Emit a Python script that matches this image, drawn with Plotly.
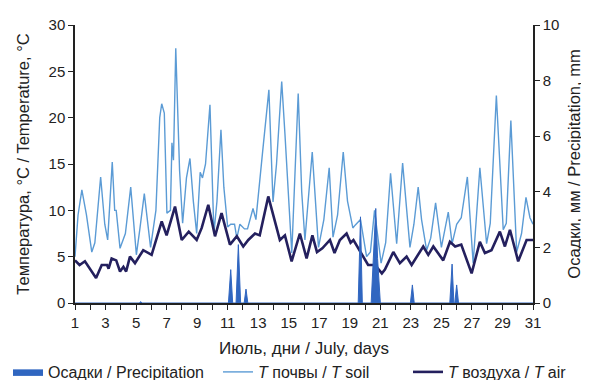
import plotly.graph_objects as go

# ---- data ----
soil_days = [1.0, 1.2, 1.45, 1.75, 2.1, 2.3, 2.68, 2.95, 3.14, 3.44, 3.6, 3.7, 3.95, 4.3, 4.65, 5.02,
             5.25, 5.54, 5.95, 6.3, 6.55, 6.68, 6.85, 7.02, 7.25, 7.35, 7.45, 7.6, 7.85, 8.05,
             8.3, 8.53, 8.75, 8.97, 9.2, 9.35, 9.55, 9.84, 10.1, 10.3, 10.56, 10.75, 11.0, 11.2,
             11.45, 11.6, 11.8, 12.1, 12.3, 12.66, 12.85, 13.05, 13.3, 13.7, 13.97, 14.2, 14.54,
             14.75, 15.2, 15.62, 15.85, 16.06, 16.54, 16.95, 17.3, 17.65, 17.9, 18.2, 18.57, 18.85,
             19.2, 19.35, 19.6, 19.7, 20.1, 20.35, 20.62, 21.05, 21.35, 21.67, 22.07, 22.46, 22.94,
             23.2, 23.48, 23.7, 24.03, 24.3, 24.62, 25.0, 25.45, 25.7, 26.0, 26.3, 26.7, 27.08,
             27.52, 27.96, 28.2, 28.6, 29.05, 29.25, 29.55, 29.93, 30.25, 30.54, 30.8, 31.0]
soil_temp = [5.0, 9.5, 12.2, 9.5, 5.5, 6.5, 13.6, 8.5, 6.8, 15.2, 10.0, 10.0, 5.9, 7.5, 12.5, 5.2,
             8.0, 11.8, 6.0, 10.0, 20.0, 21.5, 20.5, 9.7, 10.0, 17.3, 15.4, 27.5, 14.3, 8.6,
             13.5, 15.6, 11.0, 7.5, 14.1, 13.5, 15.0, 21.4, 7.5, 11.0, 18.7, 12.5, 8.2, 8.5,
             8.5, 7.0, 8.5, 8.0, 8.0, 10.2, 9.0, 12.5, 16.5, 23.0, 10.9, 15.0, 23.9,
             18.3, 5.4, 22.6, 12.0, 6.8, 16.3, 6.0, 9.0, 14.6, 7.1, 9.5, 16.3, 11.0,
             8.1, 8.4, 8.8, 9.0, 5.0, 5.5, 10.0, 4.3, 6.5, 14.0, 6.4, 15.1, 6.0,
             8.5, 12.5, 9.0, 5.7, 7.0, 10.8, 6.0, 9.8, 6.4, 8.5, 9.2, 13.6, 4.3,
             14.6, 6.4, 8.6, 22.4, 7.9, 8.6, 19.7, 5.5, 7.5, 11.4, 9.2, 8.5]

air_days = [1.0, 1.3, 1.65, 2.0, 2.38, 2.75, 3.1, 3.2, 3.4, 3.7, 3.95, 4.17, 4.35, 4.6, 4.93, 5.47,
            6.02, 6.68, 7.0, 7.55, 7.99, 8.45, 8.97, 9.3, 9.73, 10.17, 10.6, 11.15, 11.6, 12.02,
            12.35, 12.79, 13.1, 13.66, 14.1, 14.42, 14.75, 15.19, 15.73, 16.17, 16.55, 16.85,
            17.2, 17.7, 18.0, 18.35, 18.79, 19.05, 19.24, 19.78, 20.2, 20.65, 21.1, 21.3, 21.85,
            22.28, 22.72, 23.05, 23.81, 24.14, 24.47, 25.12, 25.56, 25.9, 26.3, 26.98, 27.52,
            27.85, 28.28, 28.83, 29.16, 29.49, 30.03, 30.58, 31.0]
air_temp = [4.6, 4.1, 4.5, 3.6, 2.7, 4.1, 4.1, 3.7, 4.8, 4.6, 3.4, 3.9, 3.4, 5.0, 4.3, 5.7,
            5.2, 8.8, 7.3, 10.4, 6.8, 7.7, 6.8, 8.1, 10.6, 7.2, 9.7, 6.3, 7.2, 6.1,
            6.8, 7.5, 7.3, 11.5, 8.8, 6.8, 7.3, 4.5, 7.5, 4.8, 7.3, 5.5,
            5.9, 6.8, 5.4, 6.8, 7.5, 6.5, 6.8, 5.2, 4.1, 4.1, 3.2, 3.6, 5.5,
            4.3, 5.0, 4.1, 6.1, 5.2, 6.1, 4.6, 6.6, 6.1, 6.3, 3.2, 6.6,
            5.4, 5.7, 7.7, 6.1, 7.9, 4.5, 6.8, 6.8]

precip_days = [1.0, 5.22, 5.3, 5.38, 11.05, 11.2, 11.33, 11.55, 11.7, 11.85, 12.08, 12.2, 12.32,
               19.55, 19.7, 19.82, 20.4, 20.58, 20.7, 20.82, 21.0, 22.97, 23.1, 23.22,
               25.55, 25.7, 25.82, 25.88, 26.0, 26.12, 31.0]
precip_mm = [0, 0, 0.05, 0, 0, 1.2, 0, 0, 2.1, 0, 0, 0.5, 0,
             0, 3.1, 0, 0, 2.2, 3.4, 1.6, 0, 0, 0.65, 0,
             0, 1.4, 0, 0, 0.65, 0, 0]

x_tick_vals = list(range(1, 32))
x_tick_labels = [str(d) if d % 2 == 1 else "" for d in x_tick_vals]
y_left_ticks = [0, 5, 10, 15, 20, 25, 30]
y_right_ticks = [0, 2, 4, 6, 8, 10]

FONT = "Liberation Sans, Arial, sans-serif"

# page body has an 8 px margin: figure is sized so that it fills the 589x380 window
W, H = 581, 372
ML, MT, MR, MB = 67, 17, 56, 77

fig = go.Figure()
fig.add_trace(go.Scatter(
    x=precip_days, y=precip_mm, yaxis="y2", name="Осадки / Precipitation",
    mode="lines", line=dict(color="#3066c0", width=1), fill="tozeroy",
    fillcolor="#3066c0", legend="legend"))
fig.add_trace(go.Scatter(
    x=soil_days, y=soil_temp, name="<i>T</i> почвы / <i>T</i> soil",
    mode="lines", line=dict(color="#5b9bd5", width=1.4), legend="legend2"))
fig.add_trace(go.Scatter(
    x=air_days, y=air_temp, name="<i>T</i> воздуха / <i>T</i> air",
    mode="lines", line=dict(color="#24205e", width=2.6), legend="legend3"))

axis_common = dict(ticks="outside", ticklen=5, tickwidth=1.3, tickcolor="#222",
                   showline=True, linecolor="#222", linewidth=1.5, showgrid=False,
                   zeroline=False, tickfont=dict(size=15), automargin=False)

plot_w = W - ML - MR
plot_h = H - MT - MB
leg_y = (H - MB - 364) / plot_h


def leg_x(fig_px):
    return (fig_px - ML) / plot_w


legend_common = dict(orientation="h", xanchor="left", y=leg_y, yanchor="middle",
                     font=dict(size=16, family=FONT), itemwidth=30,
                     bgcolor="rgba(0,0,0,0)", borderwidth=0)

fig.update_layout(
    width=W, height=H,
    margin=dict(l=ML, r=MR, t=MT, b=MB, autoexpand=False, pad=0),
    paper_bgcolor="white", plot_bgcolor="white",
    font=dict(family=FONT, color="#222222", size=14),
    showlegend=True,
    legend=dict(x=leg_x(0), **legend_common),
    legend2=dict(x=leg_x(210), **legend_common),
    legend3=dict(x=leg_x(400), **legend_common),
    xaxis=dict(range=[1, 31], tickmode="array", tickvals=x_tick_vals, ticktext=x_tick_labels,
               title=dict(text="Июль, дни / July, days", font=dict(size=17), standoff=12),
               **axis_common),
    yaxis=dict(range=[0, 30], tickvals=y_left_ticks,
               title=dict(text="Температура, °C / Temperature, °C", font=dict(size=16.5),
                          standoff=15),
               **axis_common),
    yaxis2=dict(range=[0, 10], tickvals=y_right_ticks, overlaying="y", side="right",
                title=dict(text="Осадки, мм / Precipitation, mm", font=dict(size=16.5),
                           standoff=10),
                **axis_common),
)

fig.write_html("out.html")
